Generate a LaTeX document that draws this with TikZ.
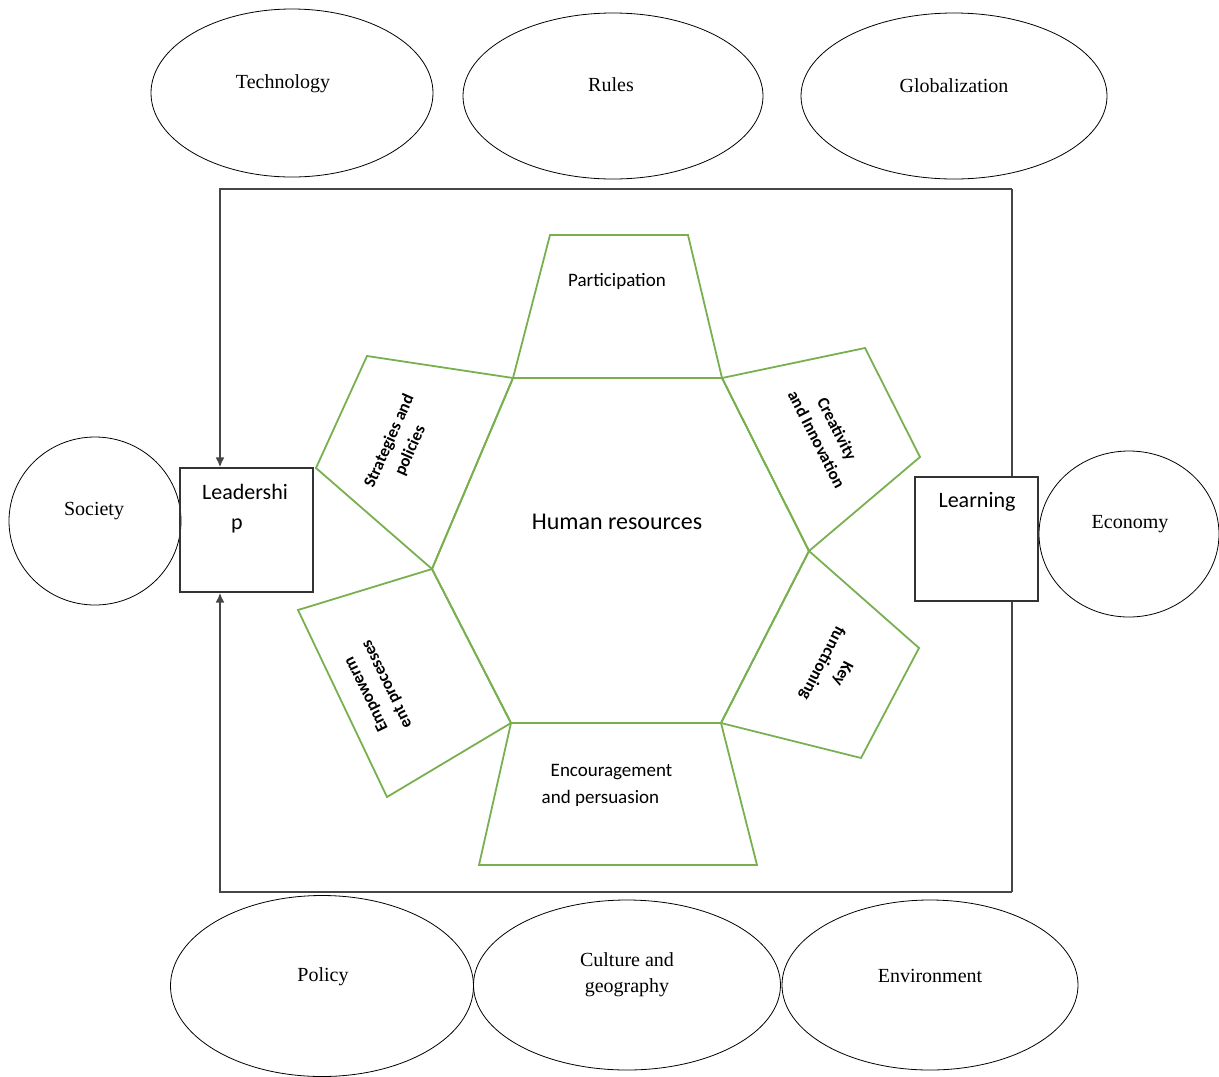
\documentclass[tikz,border=0pt]{standalone}
\usepackage{fontspec}
\setmainfont{Liberation Serif}
\newfontfamily\calibrifont{Carlito}
\usetikzlibrary{shapes.geometric,arrows.meta}
\definecolor{hexgreen}{RGB}{120,176,80}
\definecolor{framegray}{RGB}{70,70,70}
\begin{document}
\begin{tikzpicture}[x=1pt,y=-1pt,
  oval/.style={draw=black,line width=0.8pt,ellipse,inner sep=0pt},
  ovaltext/.style={font=\fontsize{20}{26}\selectfont,align=center,inner sep=0pt},
  sidebox/.style={draw=black!80,line width=1.1pt,rectangle,inner sep=0pt},
  boxtext/.style={font=\calibrifont\fontsize{22}{30}\selectfont,align=center,inner sep=0pt},
  panel/.style={draw=hexgreen,line width=1.8pt,line join=miter},
  paneltext/.style={font=\calibrifont\fontsize{19}{27}\selectfont,align=center,inner sep=0pt},
  tilttext/.style={font=\calibrifont\bfseries\fontsize{17}{23}\selectfont,align=center,inner sep=0pt},
  frameline/.style={draw=framegray,line width=2.2pt},
  tip/.style={-{Latex[length=10pt,width=9pt]}}
]
\useasboundingbox (0,0) rectangle (1219,1077);

% outer factors: top row
\node[oval,minimum width=282pt,minimum height=168pt] (tech) at (292,93) {};
\node[ovaltext] (techtxt) at (283,84) {Technology};
\node[oval,minimum width=300pt,minimum height=166pt] (rules) at (613,96) {};
\node[ovaltext] (rulestxt) at (611,85) {Rules};
\node[oval,minimum width=306pt,minimum height=166pt] (glob) at (954,96) {};
\node[ovaltext] (globtxt) at (954,86) {Globalization};

% outer factors: sides
\node[oval,minimum width=172pt,minimum height=168pt] (society) at (95,521) {};
\node[ovaltext] (societytxt) at (94,511) {Society};
\node[oval,minimum width=180pt,minimum height=166pt] (economy) at (1129,534) {};
\node[ovaltext] (economytxt) at (1130,524) {Economy};

% outer factors: bottom row
\node[oval,minimum width=303pt,minimum height=181pt] (policy) at (322,986) {};
\node[ovaltext] (policytxt) at (323,977) {Policy};
\node[oval,minimum width=307pt,minimum height=170pt] (culture) at (627,985) {};
\node[ovaltext] (culturetxt) at (627,975) {Culture and\\geography};
\node[oval,minimum width=296pt,minimum height=170pt] (env) at (930,985) {};
\node[ovaltext] (envtxt) at (930,976) {Environment};

% side boxes
\node[sidebox,minimum width=133pt,minimum height=124pt] (lead) at (246.5,530) {};
\node[boxtext] (leadtxt) at (245,509) {Leadershi\\p\hspace*{16pt}};
\node[sidebox,minimum width=123pt,minimum height=124pt] (learn) at (976.5,539) {};
\node[boxtext] (learntxt) at (977,502) {Learning};

% frame around the core
\coordinate (ftl) at (220,189);
\coordinate (ftr) at (1012,189);
\coordinate (fbl) at (220,892);
\coordinate (fbr) at (1012,892);
\draw[frameline,tip] (ftr) -- (ftl) -- (ftl |- lead.north);
\draw[frameline,tip] (fbr) -- (fbl) -- (fbl |- lead.south);
\draw[frameline] (ftr) -- (ftr |- learn.north);
\draw[frameline] (fbr) -- (fbr |- learn.south);

% central hexagon
\coordinate (ha) at (513,378);
\coordinate (hb) at (722,378);
\coordinate (hc) at (809,551);
\coordinate (hd) at (721,723);
\coordinate (he) at (511,723);
\coordinate (hf) at (432,569);
\draw[panel] (ha) -- (hb) -- (hc) -- (hd) -- (he) -- (hf) -- cycle;
\node[font=\calibrifont\fontsize{24}{28}\selectfont,inner sep=0pt] (hr) at (617,522) {Human resources};

% petals around the hexagon
\draw[panel] (ha) -- (hb) -- (688,235) -- (550,235) -- cycle;
\node[paneltext] (part) at (617,281) {Participation};

\draw[panel] (hb) -- (865,348) -- (920,457) -- (hc) -- cycle;
\node[tilttext,rotate=-63] (creat) at (827,434) {Creativity\\and Innovation};

\draw[panel] (hc) -- (919,648) -- (861,758) -- (hd) -- cycle;
\node[tilttext,rotate=-117.5] (keyf) at (832,668) {Key\\functioning};

\draw[panel] (hd) -- (757,865) -- (479,865) -- (he) -- cycle;
\node[paneltext,align=left] (enc) at (607,785) {\hspace*{9pt}Encouragement\\and persuasion};

\draw[panel] (he) -- (387,797) -- (298,610) -- (hf) -- cycle;
\node[tilttext,rotate=116] (empw) at (377,689) {Empowerm\\ent processes};

\draw[panel] (hf) -- (316,468) -- (367,356) -- (ha) -- cycle;
\node[tilttext,rotate=66] (strat) at (400,446) {Strategies and\\policies};
\end{tikzpicture}
\end{document}
